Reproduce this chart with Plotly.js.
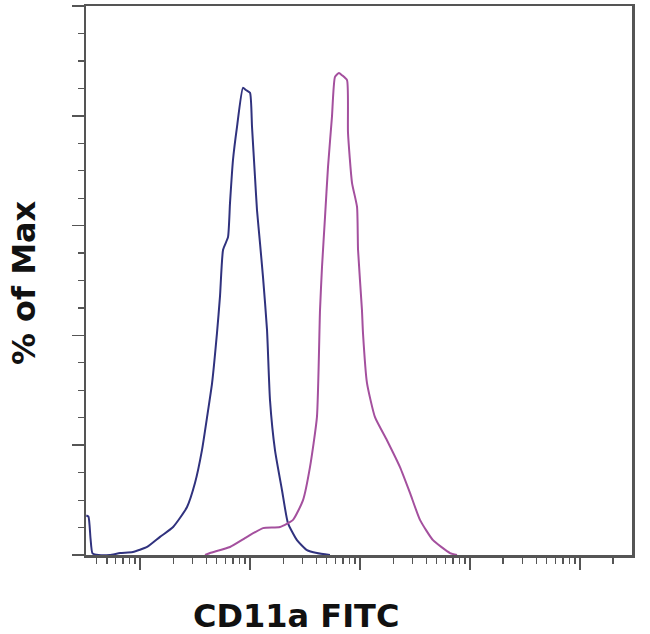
<!DOCTYPE html>
<html>
<head>
<meta charset="utf-8">
<script src="https://cdn.plot.ly/plotly-3.0.1.min.js"></script>
<style>
  html, body { margin: 0; padding: 0; background: #fff; }
  #plot { width: 650px; height: 634px; }
</style>
</head>
<body>
<div id="plot"></div>
<script>
// isotype / unstained control (blue)
var controlX = [3.25, 3.4, 3.55, 3.7, 4.2, 5.3, 6.6, 8.6, 11.6, 15.2, 20, 26.7, 31.6, 36.6, 40.7, 45.2,
    50.1, 53.4, 56.9, 63.1, 65.8, 70.0, 76.2, 86.3, 92, 100, 104.3, 111, 115.8, 123.3, 131.3,
    142.8, 152, 168.7, 195.4, 221.4, 267.3, 329.6, 406, 533];
var controlY = [7.2, 7.0, 3.0, 0.3, 0, 0, 0.36, 0.55, 1.46, 3.3, 5.1, 8.7, 13.1, 19.1, 25.1, 31.3,
    40.4, 47.2, 55.6, 57.9, 64.1, 71.9, 78.0, 85.1, 84.7, 84.2, 78.0, 68.9, 62.8, 56.8, 50.6,
    41.0, 28.2, 19.1, 11.8, 5.8, 2.7, 0.9, 0.36, 0];

// CD11a FITC stained (magenta)
var stainedX = [39, 43.3, 65.8, 94, 131.3, 187.4, 246, 303.5, 351, 406, 433, 451.6, 481, 512, 556,
    592.6, 644, 686, 762, 778, 846, 940, 960, 1042, 1065, 1158, 1369, 1758, 2310, 2849, 3511,
    4613, 6579, 7621];
var stainedY = [0, 0.36, 1.46, 3.3, 4.9, 5.1, 6.4, 10, 16, 25.1, 44.6, 52.5, 61.6, 70.7, 79.8,
    87.1, 87.8, 87.4, 86.5, 76.9, 67.8, 63.4, 55.6, 44.6, 40.4, 31.3, 25.1, 20.9, 16, 11.3, 6.4,
    2.7, 0.36, 0];

var decades = [10, 100, 1000, 10000, 100000];
var xTitle = 'CD11a FITC';
var yTitle = '% of Max';

var minorX = [];
[1, 10, 100, 1000, 10000, 100000].forEach(function(d) {
    for (var k = 2; k <= 9; k++) minorX.push(k * d);
});

var axisColor = '#555555';

var traces = [
    {
        x: controlX, y: controlY, mode: 'lines', type: 'scatter',
        line: { color: '#30327e', width: 2, shape: 'spline', smoothing: 0.5 },
        hoverinfo: 'skip'
    },
    {
        x: stainedX, y: stainedY, mode: 'lines', type: 'scatter',
        line: { color: '#a4509e', width: 2, shape: 'spline', smoothing: 0.5 },
        hoverinfo: 'skip'
    }
];

var layout = {
    width: 650, height: 634,
    margin: { l: 86, r: 18, t: 6, b: 79 },
    paper_bgcolor: '#ffffff', plot_bgcolor: '#ffffff',
    showlegend: false,
    xaxis: {
        type: 'log', range: [0.509, 5.473],
        tickmode: 'array', tickvals: decades, showticklabels: false,
        ticks: 'outside', ticklen: 12, tickwidth: 1.5, tickcolor: axisColor,
        minor: { tickmode: 'array', tickvals: minorX, ticks: 'outside', ticklen: 6, tickwidth: 1.2, tickcolor: axisColor },
        showgrid: false, zeroline: false,
        showline: true, mirror: true, linecolor: axisColor, linewidth: 2.5
    },
    yaxis: {
        range: [0, 100], dtick: 20, tick0: 0, showticklabels: false,
        ticks: 'outside', ticklen: 12, tickwidth: 1.5, tickcolor: axisColor,
        minor: { dtick: 5, ticks: 'outside', ticklen: 6, tickwidth: 1.2, tickcolor: axisColor },
        showgrid: false, zeroline: false,
        showline: true, mirror: true, linecolor: axisColor, linewidth: 2.5
    },
    annotations: [
        {
            text: xTitle, xref: 'paper', yref: 'paper', x: 0.3846, y: -0.111,
            xanchor: 'center', yanchor: 'middle', showarrow: false,
            font: { family: 'DejaVu Sans', size: 32, color: '#111111', weight: 'bold' }
        },
        {
            text: yTitle, xref: 'paper', yref: 'paper', x: -0.1136, y: 0.497,
            xanchor: 'center', yanchor: 'middle', showarrow: false, textangle: -90,
            font: { family: 'DejaVu Sans', size: 32, color: '#111111', weight: 'bold' }
        }
    ]
};

Plotly.newPlot('plot', traces, layout, { displayModeBar: false, staticPlot: true });
</script>
</body>
</html>
